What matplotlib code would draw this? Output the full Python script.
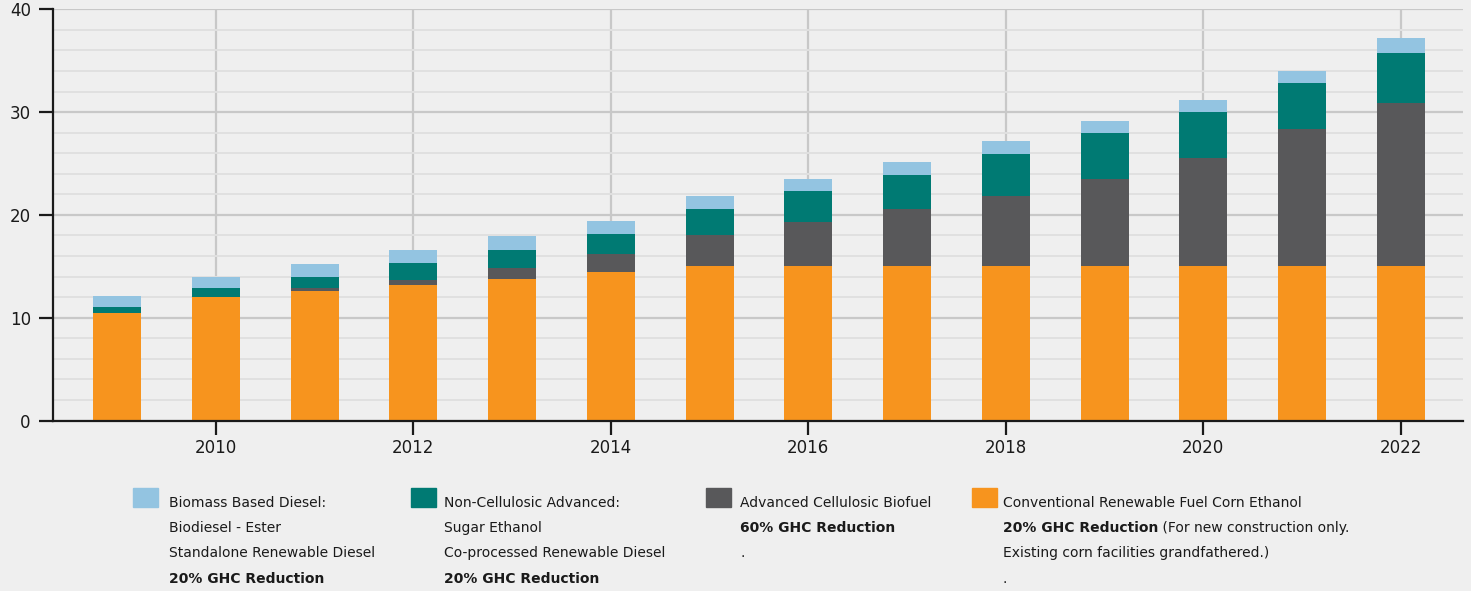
import matplotlib.pyplot as plt
import matplotlib.patches as mpatches
from matplotlib.ticker import MultipleLocator
import numpy as np

# values in billion gallons
years = [2009, 2010, 2011, 2012, 2013, 2014, 2015, 2016, 2017, 2018, 2019, 2020, 2021, 2022]
conventional = [10.5, 12.0, 12.6, 13.2, 13.8, 14.4, 15.0, 15.0, 15.0, 15.0, 15.0, 15.0, 15.0, 15.0]
cellulosic = [0.0, 0.0, 0.25, 0.5, 1.0, 1.75, 3.0, 4.35, 5.55, 6.85, 8.45, 10.5, 13.35, 15.85]
non_cellulosic = [0.55, 0.9, 1.1, 1.6, 1.75, 2.0, 2.55, 2.95, 3.35, 4.1, 4.55, 4.5, 4.5, 4.9]
biomass = [1.1, 1.05, 1.3, 1.3, 1.35, 1.3, 1.25, 1.15, 1.25, 1.25, 1.15, 1.15, 1.15, 1.45]

c_orange = '#F7941E'
c_grey = '#58585A'
c_teal = '#007A73'
c_blue = '#93C4E1'
bg = '#EFEFEF'
tc = '#1a1a1a'

W, H = 1471, 591
fig = plt.figure(figsize=(W / 100, H / 100), dpi=100, facecolor=bg)
ax = fig.add_axes([53 / W, 1 - 420.5 / H, (1463 - 53) / W, (420.5 - 9.3) / H])
ax.set_facecolor(bg)

x = np.array(years)
bw = 0.485
b1 = np.array(conventional)
b2 = b1 + np.array(cellulosic)
b3 = b2 + np.array(non_cellulosic)
ax.bar(x, conventional, bw, color=c_orange, zorder=3)
ax.bar(x, cellulosic, bw, bottom=b1, color=c_grey, zorder=3)
ax.bar(x, non_cellulosic, bw, bottom=b2, color=c_teal, zorder=3)
ax.bar(x, biomass, bw, bottom=b3, color=c_blue, zorder=3)

ax.set_xlim(2008.35, 2022.63)
ax.set_ylim(0, 40)
ax.xaxis.set_major_locator(MultipleLocator(2))
ax.yaxis.set_major_locator(MultipleLocator(10))
ax.yaxis.set_minor_locator(MultipleLocator(2))
ax.grid(True, which='major', axis='both', color='#C8C8C8', lw=1.6, zorder=1)
ax.grid(True, which='minor', axis='y', color='#E0E0E0', lw=1.4, zorder=1)
ax.set_axisbelow(True)

for s in ['top', 'right']:
    ax.spines[s].set_visible(False)
for s in ['left', 'bottom']:
    ax.spines[s].set_linewidth(1.6)
    ax.spines[s].set_color(tc)
    ax.spines[s].set_zorder(4)

ax.tick_params(axis='both', which='major', length=10, width=1.6, color=tc,
               labelsize=12, labelcolor=tc)
ax.tick_params(axis='y', which='major', pad=6)
ax.tick_params(axis='x', which='major', pad=3)
ax.tick_params(axis='y', which='minor', length=0)


# legend block below the chart (pixel positions -> figure fraction)
def fx(px):
    return px / W


def fy(py):
    return 1 - py / H


# None marks the bold reduction line
cols = [
    (133, 169, c_blue, '20% GHC Reduction',
     ['Biomass Based Diesel:', 'Biodiesel - Ester', 'Standalone Renewable Diesel', None]),
    (411, 444, c_teal, '20% GHC Reduction',
     ['Non-Cellulosic Advanced:', 'Sugar Ethanol', 'Co-processed Renewable Diesel', None]),
    (706, 740, c_grey, '60% GHC Reduction',
     ['Advanced Cellulosic Biofuel', None, '.']),
    (972, 1003, c_orange, '20% GHC Reduction',
     ['Conventional Renewable Fuel Corn Ethanol', None,
      'Existing corn facilities grandfathered.)', '.']),
]
baselines = [507, 532, 557, 583]
for sq_x, tx, col, bold, lines in cols:
    fig.patches.append(mpatches.Rectangle((fx(sq_x), fy(507)), 25 / W, 19 / H,
                                          transform=fig.transFigure, color=col))
    for i, line in enumerate(lines):
        if line is None:
            t = fig.text(fx(tx), fy(baselines[i]), bold, fontsize=10,
                         fontweight='bold', color=tc, va='baseline')
            if col == c_orange:
                ax.annotate(' (For new construction only.', xy=(1, 0), xycoords=t,
                            fontsize=10, color=tc, va='bottom',
                            annotation_clip=False)
        else:
            fig.text(fx(tx), fy(baselines[i]), line, fontsize=10, color=tc,
                     va='baseline')

fig.savefig('out.png', dpi=100, facecolor=bg)
